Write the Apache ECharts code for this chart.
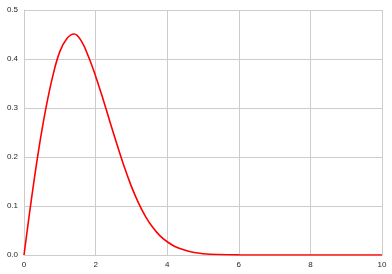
<!DOCTYPE html>
<html>
<head>
<meta charset="utf-8">
<script src="https://cdn.jsdelivr.net/npm/echarts@6/dist/echarts.min.js"></script>
<style>html,body{margin:0;padding:0;background:#fff}#c{width:392px;height:274px}</style>
</head>
<body>
<div id="c"></div>
<script>
var xValues = [0, 0.2, 0.4, 0.6, 0.8, 1.0, 1.2, 1.4, 1.6, 1.8, 2.0, 2.2, 2.4, 2.6, 2.8, 3.0, 3.2, 3.4, 3.6, 3.8, 4.0, 4.2, 4.4, 4.6, 4.8, 5.0, 5.4, 6.0, 7, 8, 9, 10];
var yValues = [0, 0.11, 0.21, 0.295, 0.364, 0.415, 0.442, 0.451, 0.437, 0.405, 0.365, 0.32, 0.272, 0.225, 0.18, 0.14, 0.106, 0.078, 0.056, 0.039, 0.027, 0.018, 0.012, 0.0075, 0.0046, 0.0027, 0.001, 0.0002, 0, 0, 0, 0];
var xTicks = [0, 2, 4, 6, 8, 10];
var yTicks = [0.0, 0.1, 0.2, 0.3, 0.4, 0.5];

var data = xValues.map(function (x, i) { return [x, yValues[i]]; });
var chart = echarts.init(document.getElementById('c'), null, { renderer: 'canvas' });
var gridColor = '#cccccc';
var labelStyle = { color: '#262626', fontSize: 8, fontFamily: 'Liberation Sans, Arial, sans-serif' };
chart.setOption({
  animation: false,
  backgroundColor: '#ffffff',
  grid: { left: 24, right: 10, top: 10, bottom: 19, containLabel: false },
  xAxis: {
    type: 'value', min: xTicks[0], max: xTicks[xTicks.length - 1], interval: 2,
    axisLine: { show: true, lineStyle: { color: gridColor, width: 1 } },
    axisTick: { show: false },
    axisLabel: Object.assign({ margin: 6, formatter: function (v) { return String(v); } }, labelStyle),
    splitLine: { show: true, showMinLine: true, showMaxLine: true, lineStyle: { color: gridColor, width: 1 } }
  },
  yAxis: {
    type: 'value', min: yTicks[0], max: yTicks[yTicks.length - 1], interval: 0.1,
    axisLine: { show: true, lineStyle: { color: gridColor, width: 1 } },
    axisTick: { show: false },
    axisLabel: Object.assign({ margin: 6, formatter: function (v) { return v.toFixed(1); } }, labelStyle),
    splitLine: { show: true, showMinLine: true, showMaxLine: true, lineStyle: { color: gridColor, width: 1 } }
  },
  series: [{
    type: 'line', data: data, smooth: 0.4, showSymbol: false,
    lineStyle: { color: '#ff0000', width: 1.6 },
    clip: true
  }]
});
</script>
</body>
</html>
